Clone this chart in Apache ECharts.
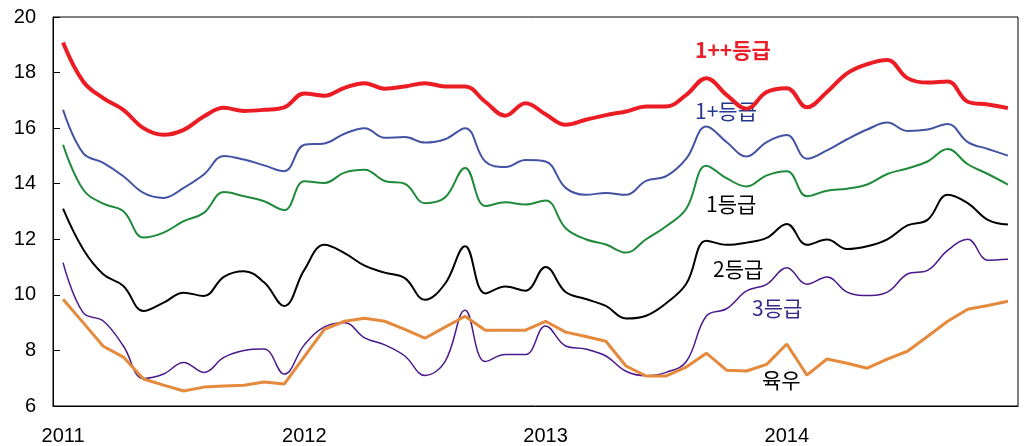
<!DOCTYPE html>
<html>
<head>
<meta charset="utf-8">
<script src="https://cdn.jsdelivr.net/npm/echarts@6/dist/echarts.min.js"></script>
<style>
  html, body { margin: 0; padding: 0; background: #fff; }
  #chart { width: 1025px; height: 446px; }
</style>
</head>
<body>
<div id="chart"></div>
<script>
// monthly, Jan 2011 .. Dec 2014
const months = [];
for (let y = 2011; y <= 2014; y++) {
  for (let m = 1; m <= 12; m++) months.push(y + '-' + (m < 10 ? '0' + m : m));
}

const grade1pp = [19.08, 17.68, 17.08, 16.66, 16.0, 15.76, 15.94, 16.42, 16.73, 16.62, 16.66, 16.75,
  17.25, 17.17, 17.45, 17.62, 17.42, 17.5, 17.62, 17.5, 17.5, 16.95, 16.45, 16.9,
  16.5, 16.12, 16.3, 16.47, 16.6, 16.78, 16.78, 17.2, 17.8, 17.2, 16.7, 17.3,
  17.44, 16.75, 17.3, 17.97, 18.3, 18.45, 17.8, 17.64, 17.68, 16.95, 16.85, 16.72];

const grade1p = [16.66, 15.1, 14.75, 14.27, 13.67, 13.49, 13.85, 14.33, 15.0, 14.87, 14.66, 14.45,
  15.4, 15.45, 15.8, 16.0, 15.65, 15.68, 15.48, 15.6, 16.0, 14.8, 14.6, 14.85,
  14.8, 13.85, 13.6, 13.67, 13.6, 14.1, 14.27, 14.9, 16.06, 15.5, 14.98, 15.5,
  15.75, 14.9, 15.2, 15.6, 15.95, 16.2, 15.9, 15.95, 16.15, 15.5, 15.25, 15.01];

const grade1 = [15.4, 13.79, 13.28, 13.01, 12.06, 12.24, 12.65, 12.95, 13.7, 13.55, 13.37, 13.05,
  14.09, 14.03, 14.4, 14.5, 14.1, 14.0, 13.3, 13.5, 14.57, 13.2, 13.33, 13.25,
  13.4, 12.4, 12.0, 11.81, 11.52, 12.0, 12.47, 13.1, 14.65, 14.2, 13.9, 14.3,
  14.45, 13.55, 13.75, 13.82, 13.97, 14.35, 14.55, 14.8, 15.25, 14.7, 14.35, 13.97];

const grade2 = [13.1, 11.64, 10.74, 10.32, 9.42, 9.72, 10.08, 9.96, 10.65, 10.85, 10.45, 9.6,
  10.9, 11.8, 11.5, 11.05, 10.8, 10.6, 9.82, 10.4, 11.75, 10.05, 10.3, 10.15,
  11.0, 10.1, 9.85, 9.6, 9.15, 9.25, 9.7, 10.4, 11.95, 11.8, 11.88, 12.05,
  12.55, 11.8, 11.99, 11.65, 11.75, 12.0, 12.5, 12.7, 13.6, 13.3, 12.7, 12.53];

const grade3 = [11.16, 9.36, 9.06, 8.16, 6.99, 7.15, 7.57, 7.21, 7.75, 8.0, 8.05, 7.15,
  8.2, 8.85, 9.0, 8.45, 8.2, 7.8, 7.1, 7.6, 9.45, 7.6, 7.85, 7.85,
  8.88, 8.16, 8.05, 7.8, 7.25, 7.09, 7.21, 7.6, 9.24, 9.5, 10.14, 10.38,
  10.98, 10.38, 10.64, 10.1, 9.98, 10.1, 10.75, 10.88, 11.6, 12.0, 11.25, 11.28];

const dairy = [9.84, 9.0, 8.15, 7.76, 6.97, 6.75, 6.54, 6.68, 6.72, 6.75, 6.86, 6.79,
  7.78, 8.76, 9.05, 9.16, 9.05, 8.76, 8.44, 8.84, 9.23, 8.73, 8.73, 8.73,
  9.05, 8.66, 8.5, 8.33, 7.44, 7.08, 7.08, 7.4, 7.9, 7.29, 7.26, 7.5,
  8.23, 7.11, 7.69, 7.54, 7.36, 7.69, 7.97, 8.5, 9.05, 9.48, 9.62, 9.77];

const chart = echarts.init(document.getElementById('chart'));

const txt = { fontFamily: 'Arial, "Liberation Sans", sans-serif', fontSize: 20, color: '#000' };
const krFont = '"Noto Sans CJK KR", sans-serif';

function label(text, left, top, color, bold) {
  return {
    type: 'text', left: left, top: top,
    style: { text: text, fill: color, font: (bold ? 'bold ' : '') + '21px ' + krFont }
  };
}

const option = {
  animation: false,
  grid: {
    left: 53, right: 7, top: 17, bottom: 39,
    show: true, borderColor: '#000', borderWidth: 1
  },
  xAxis: {
    type: 'category',
    data: months,
    boundaryGap: true,
    axisLine: { lineStyle: { color: '#000' } },
    axisTick: { show: false },
    splitLine: { show: false },
    axisLabel: Object.assign({}, txt, {
      interval: 11,
      margin: 20,
      formatter: v => v.slice(0, 4)
    })
  },
  yAxis: {
    type: 'value',
    min: 6, max: 20, interval: 2,
    axisLine: { show: true, lineStyle: { color: '#000' } },
    axisTick: { show: true, inside: true, length: 7, lineStyle: { color: '#000' } },
    splitLine: { show: false },
    axisLabel: Object.assign({}, txt, { margin: 17 })
  },
  series: [
    { name: '1++등급', type: 'line', data: grade1pp, smooth: 0.4, symbol: 'none',
      lineStyle: { color: '#ec1c24', width: 4 } },
    { name: '1+등급', type: 'line', data: grade1p, smooth: 0.4, symbol: 'none',
      lineStyle: { color: '#4352a3', width: 2 } },
    { name: '1등급', type: 'line', data: grade1, smooth: 0.4, symbol: 'none',
      lineStyle: { color: '#1e8a3a', width: 2 } },
    { name: '2등급', type: 'line', data: grade2, smooth: 0.4, symbol: 'none',
      lineStyle: { color: '#000000', width: 2 } },
    { name: '3등급', type: 'line', data: grade3, smooth: 0.4, symbol: 'none',
      lineStyle: { color: '#4a1a8c', width: 1.5 } },
    { name: '육우', type: 'line', data: dairy, smooth: false, symbol: 'none',
      lineStyle: { color: '#e58a3c', width: 3 } }
  ],
  graphic: [
    label('1++등급', 695, 40, '#e8202a', true),
    label('1+등급', 695, 101, '#23378c', false),
    label('1등급', 706, 194, '#000000', false),
    label('2등급', 713, 259, '#000000', false),
    label('3등급', 752, 298, '#3b2a8a', false),
    label('육우', 762, 370, '#000000', false)
  ]
};

chart.setOption(option);
</script>
</body>
</html>
